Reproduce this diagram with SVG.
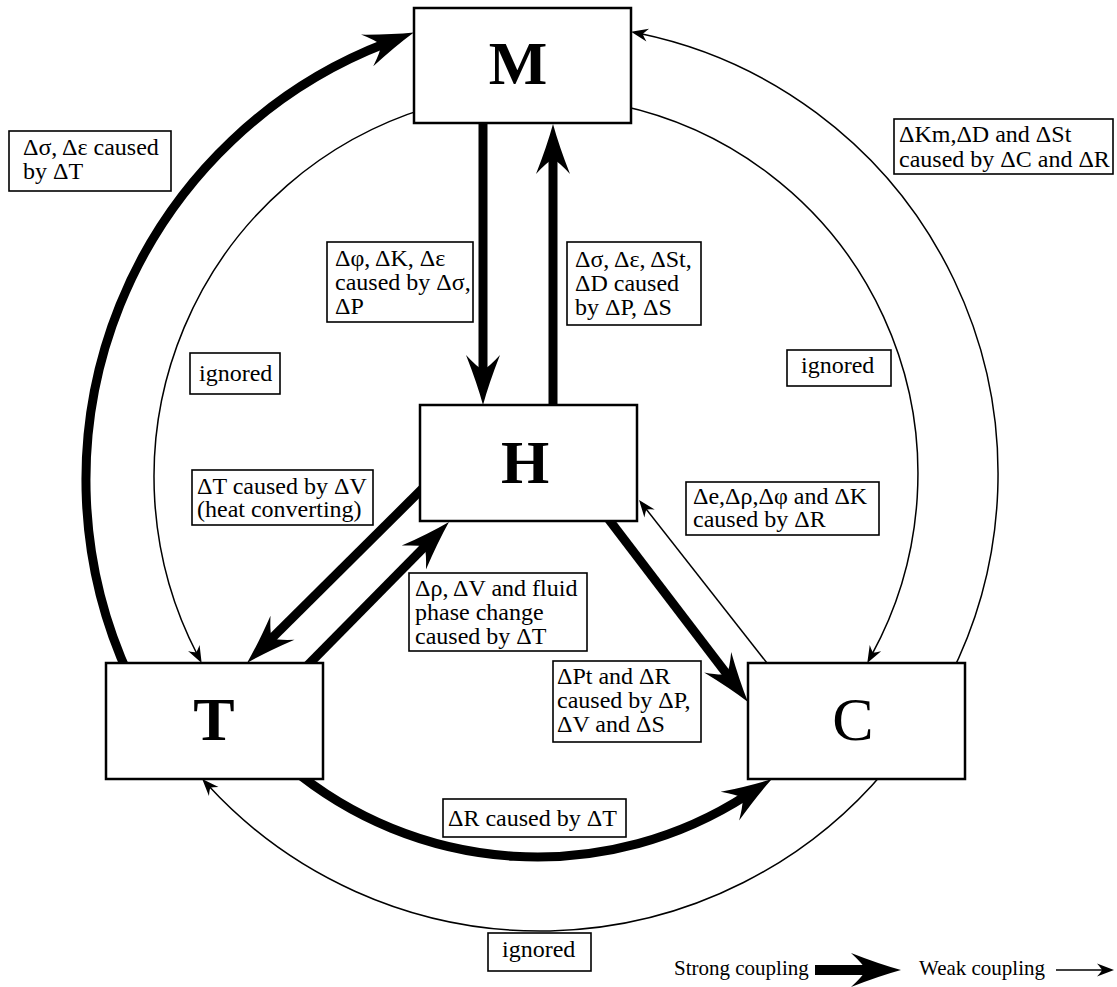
<svg xmlns="http://www.w3.org/2000/svg" width="1117" height="987" viewBox="0 0 1117 987">
<defs>
<marker id="strong" markerUnits="userSpaceOnUse" viewBox="-52 -19 54 38" markerWidth="54" markerHeight="38" refX="-30" refY="0" orient="auto">
<path d="M0,0 Q-22,-6 -50,-17 Q-38,-6 -35,0 Q-38,6 -50,17 Q-22,6 0,0 Z" fill="#000"/>
</marker>
<marker id="weak" markerUnits="userSpaceOnUse" viewBox="-19 -8 21 16" markerWidth="21" markerHeight="16" refX="-9" refY="0" orient="auto">
<path d="M0,0 L-17,-6.5 Q-13,-2 -12,0 Q-13,2 -17,6.5 Z" fill="#000"/>
</marker>
<style>
.strong{fill:none;stroke:#000;stroke-width:9;marker-end:url(#strong)}
.weak{fill:none;stroke:#000;stroke-width:1.5;marker-end:url(#weak)}
.node rect{fill:#fff;stroke:#000;stroke-width:2.5}
.node text{font-family:"Liberation Serif","Times New Roman",serif;font-size:62px;text-anchor:middle;font-weight:bold;fill:#000}
.lbl rect{fill:#fff;stroke:#000;stroke-width:1.6}
.lbl text{font-family:"Liberation Serif","Times New Roman",serif;font-size:24px;fill:#000}
.leg{font-family:"Liberation Serif","Times New Roman",serif;font-size:21px;fill:#000}
</style>
</defs>
<rect width="1117" height="987" fill="#fff"/>

<g id="connectors">
<path id="e-T-M" class="strong" d="M129.8,677.8 A468,468 0 0,1 385.8,43.3"/>
<path id="e-M-T" class="weak" d="M427.1,107.9 A386,386 0 0,0 197.5,655"/>
<path id="e-C-M" class="weak" d="M949,678.3 A450,450 0 0,0 639.9,33.5"/>
<path id="e-M-C" class="weak" d="M619.4,105.3 A377,377 0 0,1 871.6,655.1"/>
<path id="e-T-C" class="strong" d="M289.7,766.8 A385.5,385.5 0 0,0 746.7,795.3"/>
<path id="e-C-T" class="weak" d="M885.5,769.9 A451,451 0 0,1 208.3,785.6"/>
<path id="e-M-H" class="strong" d="M483,118 L483,375"/>
<path id="e-H-M" class="strong" d="M553,410 L553,154"/>
<path id="e-H-T" class="strong" d="M424.3,486.8 L268.3,641.8"/>
<path id="e-T-H" class="strong" d="M306,667 L427.9,543.3"/>
<path id="e-H-C" class="strong" d="M606.4,516.2 L729.8,678.1"/>
<path id="e-C-H" class="weak" d="M770.7,667.7 L644.6,507.1"/>
</g>

<g id="node-M" class="node"><rect x="414" y="8" width="217" height="115"/><text x="518" y="84">M</text></g>
<g id="node-H" class="node"><rect x="420" y="405" width="217" height="116"/><text x="525" y="483">H</text></g>
<g id="node-T" class="node"><rect x="106" y="663" width="217" height="116"/><text x="214" y="740">T</text></g>
<g id="node-C" class="node"><rect x="748" y="663" width="217" height="116"/><text x="853" y="740" style="font-weight:normal">C</text></g>

<g id="label-TM" class="lbl"><rect x="9" y="131" width="162" height="60"/><text><tspan x="23" y="155">Δσ, Δε caused</tspan><tspan x="23" y="179">by ΔT</tspan></text></g>
<g id="label-MH" class="lbl"><rect x="327" y="242" width="146" height="80"/><text><tspan x="335" y="266">Δφ, ΔK, Δε</tspan><tspan x="335" y="290">caused by Δσ,</tspan><tspan x="335" y="314">ΔP</tspan></text></g>
<g id="label-HM" class="lbl"><rect x="567" y="242" width="134" height="83"/><text><tspan x="575" y="267">Δσ, Δε, ΔSt,</tspan><tspan x="575" y="291">ΔD caused</tspan><tspan x="575" y="315">by ΔP, ΔS</tspan></text></g>
<g id="label-CM" class="lbl"><rect x="894" y="119" width="219" height="55"/><text><tspan x="899" y="142">ΔKm,ΔD and ΔSt</tspan><tspan x="899" y="167">caused by ΔC and ΔR</tspan></text></g>
<g id="label-MT" class="lbl"><rect x="190" y="353" width="90" height="41"/><text x="199" y="381">ignored</text></g>
<g id="label-MC" class="lbl"><rect x="787" y="350" width="104" height="36"/><text x="801" y="373">ignored</text></g>
<g id="label-HT" class="lbl"><rect x="192" y="470" width="181" height="55"/><text><tspan x="197" y="494">ΔT caused by ΔV</tspan><tspan x="197" y="517">(heat converting)</tspan></text></g>
<g id="label-TH" class="lbl"><rect x="409" y="573" width="178" height="78"/><text><tspan x="415" y="596">Δρ, ΔV and fluid</tspan><tspan x="415" y="620">phase change</tspan><tspan x="415" y="644">caused by ΔT</tspan></text></g>
<g id="label-CH" class="lbl"><rect x="686" y="482" width="193" height="53"/><text><tspan x="693" y="504">Δe,Δρ,Δφ and ΔK</tspan><tspan x="693" y="527">caused by ΔR</tspan></text></g>
<g id="label-HC" class="lbl"><rect x="553" y="661" width="148" height="81"/><text><tspan x="557" y="684">ΔPt and ΔR</tspan><tspan x="557" y="708">caused by ΔP,</tspan><tspan x="557" y="732">ΔV and ΔS</tspan></text></g>
<g id="label-TC" class="lbl"><rect x="443" y="799" width="183" height="38"/><text x="448" y="826">ΔR caused by ΔT</text></g>
<g id="label-CT" class="lbl"><rect x="488" y="933" width="103" height="38"/><text x="502" y="957">ignored</text></g>

<g id="legend">
<text class="leg" x="674" y="975">Strong coupling</text>
<path d="M815,970 L871,970" fill="none" stroke="#000" stroke-width="10" marker-end="url(#strong)"/>
<text class="leg" x="919" y="975">Weak coupling</text>
<path class="weak" d="M1056,970 L1105,970"/>
</g>
</svg>
